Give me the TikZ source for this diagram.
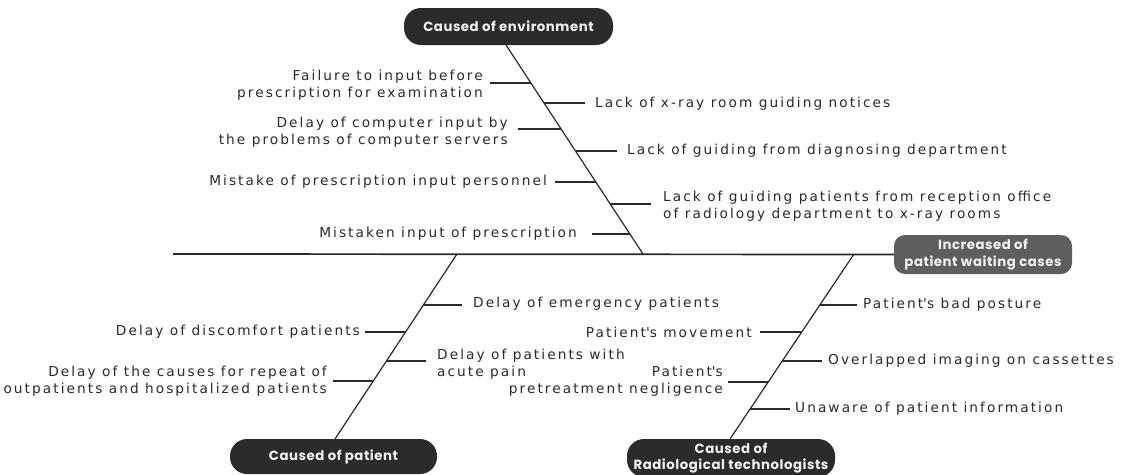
\documentclass[tikz,border=0pt]{standalone}
\usepackage{fontspec}
\setmainfont{DejaVu Sans}[LetterSpace=15]
\newfontfamily\boxfont{Poppins}[LetterSpace=4]
\definecolor{labc}{HTML}{2A2A2A}
\definecolor{linec}{HTML}{2A2A2A}
\definecolor{boxdark}{HTML}{2B2B2B}
\definecolor{boxgray}{HTML}{5E5E5E}
\definecolor{boxtext}{HTML}{F2F2F2}
\newcommand{\apos}{\textquotesingle}
\begin{document}
\begin{tikzpicture}[x=1pt,y=-1pt,
  lab/.style={inner sep=0pt, font=\fontsize{13.7}{17}\selectfont, text=labc},
  labl/.style={lab, anchor=east, align=right},
  labr/.style={lab, anchor=west, align=left},
  rib/.style={draw=linec, line width=1.4pt},
  spine/.style={draw=linec, line width=1.2pt},
  mainline/.style={draw=linec, line width=1.7pt},
  catbox/.style={fill=boxdark, text=boxtext, rounded corners=17pt, inner sep=0pt,
    align=center, font=\boxfont\bfseries\fontsize{13.3}{16.5}\selectfont}]
\useasboundingbox (0,0) rectangle (1126,474);
\fill[white] (0,0) rectangle (1126,474);

% category boxes
\node[catbox, minimum width=209pt, minimum height=37pt] (env) at (508.5,26.5) {Caused of environment};
\node[catbox, fill=boxgray, minimum width=178pt, minimum height=39pt, rounded corners=11pt] (head) at (983,254.5) {Increased of\\patient waiting cases};
\node[catbox, minimum width=207pt, minimum height=35pt] (pat) at (333.5,456.5) {Caused of patient};
\node[catbox, minimum width=208pt, minimum height=38pt] (rad) at (731,458) {Caused of\\Radiological technologists};

% main line and spines
\coordinate (tail) at (173,254);
\coordinate (jT) at (643,254);
\coordinate (jL) at (457,254);
\coordinate (jR) at (854,254);
\coordinate (eT) at (506,45);
\coordinate (eL) at (335,439);
\coordinate (eR) at (730,439);
\draw[mainline] (tail) -- (head.west);
\draw[spine] (eT) -- (jT);
\draw[spine] (jL) -- (eL);
\draw[spine] (jR) -- (eR);

% top-left causes
\node[labl] (tl1) at (483,85.5) {Failure to input before\\prescription for examination};
\coordinate (tl1a) at (490,83); \coordinate (tl1b) at (531,83);
\draw[rib] (tl1a) -- (tl1b);
\node[labl] (tl2) at (508,132.5) {Delay of computer input by\\the problems of computer servers};
\coordinate (tl2a) at (518,129); \coordinate (tl2b) at (561,129);
\draw[rib] (tl2a) -- (tl2b);
\node[labl] (tl3) at (547,182) {Mistake of prescription input personnel};
\coordinate (tl3a) at (555,182); \coordinate (tl3b) at (596,182);
\draw[rib] (tl3a) -- (tl3b);
\node[labl] (tl4) at (577,234) {Mistaken input of prescription};
\coordinate (tl4a) at (592,234); \coordinate (tl4b) at (630,234);
\draw[rib] (tl4a) -- (tl4b);

% top-right causes
\node[labr] (tr1) at (595,104) {Lack of x-ray room guiding notices};
\coordinate (tr1a) at (544,103); \coordinate (tr1b) at (585,103);
\draw[rib] (tr1a) -- (tr1b);
\node[labr] (tr2) at (627,151) {Lack of guiding from diagnosing department};
\coordinate (tr2a) at (576,151); \coordinate (tr2b) at (617,151);
\draw[rib] (tr2a) -- (tr2b);
\node[labr] (tr3) at (663,206) {Lack of guiding patients from reception office\\of radiology department to x-ray rooms};
\coordinate (tr3a) at (610,204); \coordinate (tr3b) at (651,204);
\draw[rib] (tr3a) -- (tr3b);

% bottom-left causes (patient)
\node[labr] (bl1) at (473,304) {Delay of emergency patients};
\coordinate (bl1a) at (423,305); \coordinate (bl1b) at (462,305);
\draw[rib] (bl1a) -- (bl1b);
\node[labl] (bl2) at (360,331.5) {Delay of discomfort patients};
\coordinate (bl2a) at (365,332); \coordinate (bl2b) at (405,332);
\draw[rib] (bl2a) -- (bl2b);
\node[labr] (bl3) at (437,364) {Delay of patients with\\acute pain};
\coordinate (bl3a) at (386,361); \coordinate (bl3b) at (426,361);
\draw[rib] (bl3a) -- (bl3b);
\node[labl] (bl4) at (327,381) {Delay of the causes for repeat of\\outpatients and hospitalized patients};
\coordinate (bl4a) at (333,381); \coordinate (bl4b) at (373,381);
\draw[rib] (bl4a) -- (bl4b);

% bottom-right causes (radiological technologists)
\node[labr] (br1) at (863,305) {Patient\apos s bad posture};
\coordinate (br1a) at (820,305); \coordinate (br1b) at (857,305);
\draw[rib] (br1a) -- (br1b);
\node[labl] (br2) at (752,332) {Patient\apos s movement};
\coordinate (br2a) at (760,332); \coordinate (br2b) at (801,332);
\draw[rib] (br2a) -- (br2b);
\node[labr] (br3) at (828,361) {Overlapped imaging on cassettes};
\coordinate (br3a) at (782,361); \coordinate (br3b) at (822,361);
\draw[rib] (br3a) -- (br3b);
\node[labl] (br4) at (723,381.5) {Patient\apos s\\pretreatment negligence};
\coordinate (br4a) at (728,382); \coordinate (br4b) at (768,382);
\draw[rib] (br4a) -- (br4b);
\node[labr] (br5) at (795,409) {Unaware of patient information};
\coordinate (br5a) at (750,409); \coordinate (br5b) at (790,409);
\draw[rib] (br5a) -- (br5b);
\end{tikzpicture}
\end{document}
